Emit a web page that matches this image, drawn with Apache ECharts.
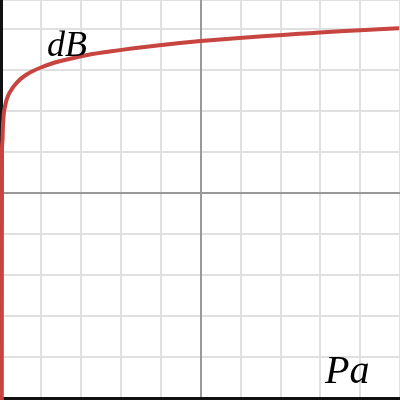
<!DOCTYPE html>
<html>
<head>
<meta charset="utf-8">
<script src="https://cdn.jsdelivr.net/npm/echarts@6/dist/echarts.min.js"></script>
<style>html,body{margin:0;padding:0;background:#fff}#c{width:400px;height:400px}</style>
</head>
<body>
<div id="c"></div>
<script>
// Curve points (graph units: x grid step 1, y grid step 1)
var curveX = [-4.98, -4.975, -4.9625, -4.95, -4.925, -4.875, -4.825, -4.775, -4.675, -4.525, -4.375, -4.225, -4.0, -3.65, -3.35, -2.775, -2.275, -1.675, -1.025, 0, 0.975, 1.65, 2.475, 3.0, 4.0, 4.975];
var curveY = [-5.2, 1.10, 1.293, 1.659, 1.976, 2.220, 2.366, 2.463, 2.610, 2.768, 2.878, 2.963, 3.061, 3.183, 3.256, 3.378, 3.451, 3.529, 3.602, 3.707, 3.780, 3.829, 3.883, 3.915, 3.971, 4.020];
var xLabel = 'Pa';
var yLabel = 'dB';

var pts = curveX.map(function (x, i) { return [x, curveY[i]]; });
var chart = echarts.init(document.getElementById('c'), null, { renderer: 'canvas' });
chart.setOption({
  animation: false,
  backgroundColor: '#ffffff',
  grid: { left: 1, top: 0, width: 400, bottom: 2 },
  xAxis: [
    { type: 'value', min: -5, max: 5, interval: 1,
      axisLine: { show: true, onZero: true, lineStyle: { color: '#999999', width: 2 } },
      axisTick: { show: false }, axisLabel: { show: false },
      splitLine: { show: true, lineStyle: { color: '#e0e0e0', width: 2 } } },
    { type: 'value', min: -5, max: 5, position: 'bottom',
      axisLine: { show: true, onZero: false, lineStyle: { color: '#111111', width: 3 } },
      axisTick: { show: false }, axisLabel: { show: false }, splitLine: { show: false } }
  ],
  yAxis: [
    { type: 'value', min: -5, max: 4.7073, interval: 1,
      axisLine: { show: true, onZero: true, lineStyle: { color: '#999999', width: 2 } },
      axisTick: { show: false }, axisLabel: { show: false },
      splitLine: { show: true, lineStyle: { color: '#e0e0e0', width: 2 } } },
    { type: 'value', min: -5, max: 4.7073, position: 'left',
      axisLine: { show: true, onZero: false, lineStyle: { color: '#111111', width: 3 } },
      axisTick: { show: false }, axisLabel: { show: false }, splitLine: { show: false } }
  ],
  series: [{
    type: 'line',
    data: pts,
    smooth: 0.2,
    showSymbol: false,
    clip: true,
    lineStyle: { color: '#c74440', width: 4 },
    z: 10
  }],
  graphic: [
    { type: 'text', left: 47, top: 29, z: 20,
      style: { text: yLabel, font: 'italic 36px "Liberation Serif"', fill: '#000' } },
    { type: 'text', left: 325, top: 352, z: 20,
      style: { text: xLabel, font: 'italic 40px "Liberation Serif"', fill: '#000' } }
  ]
});
</script>
</body>
</html>
